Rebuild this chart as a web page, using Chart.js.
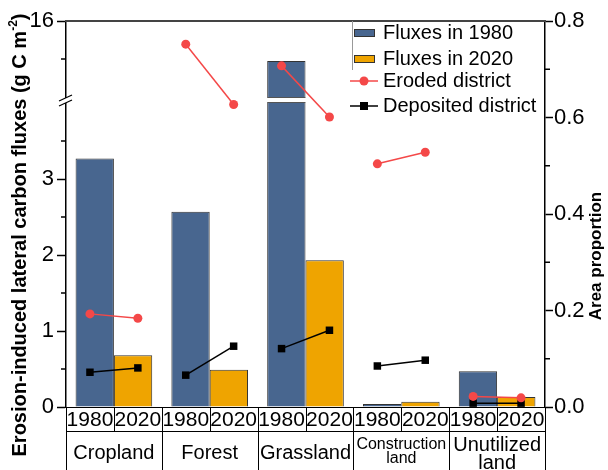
<!DOCTYPE html>
<html>
<head>
<meta charset="utf-8">
<script src="https://cdn.jsdelivr.net/npm/chart.js@4.4.1/dist/chart.umd.min.js"></script>
<style>
  body { margin: 0; background: #fff; }
</style>
</head>
<body>
<canvas id="chart" width="608" height="470"></canvas>
<script>
// data
const categories = ['Cropland', 'Forest', 'Grassland', ['Construction', 'land'], ['Unutilized', 'land']];
const years = ['1980', '2020'];
const flux1980 = [3.27, 2.57, 14.95, 0.04, 0.47];
const flux2020 = [0.68, 0.49, 1.93, 0.07, 0.13];
const eroded1980 = [0.193, 0.752, 0.707, 0.504, 0.022];
const eroded2020 = [0.184, 0.627, 0.601, 0.528, 0.019];
const deposited1980 = [0.072, 0.066, 0.121, 0.085, 0.008];
const deposited2020 = [0.081, 0.126, 0.159, 0.097, 0.008];

// left axis is broken between 4 and 14
const leftTicks = [0, 1, 2, 3, 16];
const leftMinorTicks = [0.5, 1.5, 2.5, 3.5, 15];
const rightMinorTicks = [0.1, 0.3, 0.5, 0.7];
const lowerMax = 4, upperMin = 14, upperMax = 16;
const breakGap = 6;

const blue = '#48668f';
const orange = '#efa400';
const red = '#f44848';
const font = 'Liberation Sans, Arial, sans-serif';

// x runs over category index; the 1980/2020 points sit a quarter category either side
const bars1980 = flux1980.map((v, i) => ({ x: i, y: v }));
const bars2020 = flux2020.map((v, i) => ({ x: i, y: v }));
const erodedData = [];
const depositedData = [];
for (let i = 0; i < categories.length; i++) {
  erodedData.push({ x: i - 0.25, y: eroded1980[i] }, { x: i + 0.25, y: eroded2020[i] });
  depositedData.push({ x: i - 0.25, y: deposited1980[i] }, { x: i + 0.25, y: deposited2020[i] });
}

class BrokenScale extends Chart.LinearScale {
  buildTicks() {
    return leftTicks.map(v => ({ value: v }));
  }
  unit() {
    return (this.bottom - this.top - breakGap) / (lowerMax + (upperMax - upperMin) / 2);
  }
  getPixelForValue(v) {
    if (v === null || v === undefined) return NaN;
    const u = this.unit();
    if (v <= lowerMax) return this.bottom - v * u;
    if (v >= upperMin) return this.bottom - lowerMax * u - breakGap - (v - upperMin) * u / 2;
    return this.bottom - lowerMax * u - breakGap / 2;
  }
  getValueForPixel(p) {
    const u = this.unit();
    const d = this.bottom - p;
    if (d <= lowerMax * u) return d / u;
    return upperMin + (d - lowerMax * u - breakGap) * 2 / u;
  }
}
BrokenScale.id = 'broken';
BrokenScale.defaults = Chart.LinearScale.defaults;
Chart.register(BrokenScale);

function line(ctx, x1, y1, x2, y2) {
  ctx.beginPath();
  ctx.moveTo(x1, y1);
  ctx.lineTo(x2, y2);
  ctx.stroke();
}

const extras = {
  id: 'extras',
  afterDatasetDraw(chart, args) {
    if (args.index !== 0) return;
    // white gap through the tall grassland bar
    const ctx = chart.ctx;
    const y = chart.scales.y;
    const bar = chart.getDatasetMeta(0).data[2];
    const top = y.getPixelForValue(upperMin);
    const bottom = y.getPixelForValue(lowerMax);
    ctx.save();
    ctx.fillStyle = '#fff';
    ctx.fillRect(bar.x - bar.width / 2 - 1, top, bar.width + 2, bottom - top);
    ctx.strokeStyle = '#555';
    ctx.lineWidth = 1;
    line(ctx, bar.x - bar.width / 2, top + 0.5, bar.x + bar.width / 2, top + 0.5);
    line(ctx, bar.x - bar.width / 2, bottom - 0.5, bar.x + bar.width / 2, bottom - 0.5);
    ctx.restore();
  },
  afterDraw(chart) {
    const ctx = chart.ctx;
    const area = chart.chartArea;
    const y = chart.scales.y;
    const y1 = chart.scales.y1;
    const x = chart.scales.x;
    ctx.save();

    // top frame
    ctx.strokeStyle = '#444';
    ctx.lineWidth = 2;
    line(ctx, area.left - 1, area.top, area.right + 1, area.top);

    // minor ticks
    ctx.strokeStyle = '#000';
    ctx.lineWidth = 1.5;
    leftMinorTicks.forEach(v => {
      const p = y.getPixelForValue(v);
      line(ctx, area.left - 5, p, area.left, p);
    });
    rightMinorTicks.forEach(v => {
      const p = y1.getPixelForValue(v);
      line(ctx, area.right, p, area.right + 5, p);
    });

    // axis break marks
    const yb = (y.getPixelForValue(lowerMax) + y.getPixelForValue(upperMin)) / 2;
    ctx.fillStyle = '#fff';
    ctx.fillRect(area.left - 3, yb - 2, 6, 5);
    ctx.lineWidth = 1.3;
    line(ctx, area.left - 7, yb + 1, area.left + 6, yb - 5);
    line(ctx, area.left - 7, yb + 6, area.left + 6, yb);

    // table under the plot
    const w = x.getPixelForValue(1) - x.getPixelForValue(0);
    const rowTop = area.bottom;
    const rowMid = rowTop + 24;
    const rowEnd = chart.height;
    ctx.strokeStyle = '#000';
    ctx.lineWidth = 1;
    line(ctx, area.left, rowTop + 0.5, area.right, rowTop + 0.5);
    line(ctx, area.left, rowMid + 0.5, area.right, rowMid + 0.5);
    for (let k = 0; k <= categories.length * 2; k++) {
      const px = Math.round(x.getPixelForValue(k / 2 - 0.5)) + 0.5;
      line(ctx, px, rowTop, px, k % 2 === 0 ? rowEnd : rowMid);
    }
    ctx.fillStyle = '#000';
    ctx.textAlign = 'center';
    ctx.textBaseline = 'middle';
    for (let i = 0; i < categories.length; i++) {
      const cx = x.getPixelForValue(i);
      ctx.font = '21px ' + font;
      ctx.fillText(years[0], cx - w / 4, rowTop + 13);
      ctx.fillText(years[1], cx + w / 4, rowTop + 13);
      const lab = categories[i];
      if (Array.isArray(lab)) {
        const small = lab[0].length > 10;
        ctx.font = (small ? '16px ' : '20px ') + font;
        const gap = small ? 14 : 18;
        ctx.fillText(lab[0], cx, rowMid + 14);
        ctx.fillText(lab[1], cx, rowMid + 14 + gap);
      } else {
        ctx.font = '20px ' + font;
        ctx.fillText(lab, cx, rowMid + 22);
      }
    }

    // legend
    const lx = 353, tx = 383;
    const rows = [33, 59, 81, 106];
    ctx.strokeStyle = '#999';
    ctx.lineWidth = 1;
    line(ctx, lx - 0.5, area.top, lx - 0.5, 70);
    ctx.font = '20px ' + font;
    ctx.textAlign = 'left';
    ctx.fillStyle = blue;
    ctx.fillRect(lx + 1, rows[0] - 4, 21, 8);
    ctx.strokeStyle = '#333';
    ctx.strokeRect(lx + 1.5, rows[0] - 3.5, 20, 7);
    ctx.fillStyle = orange;
    ctx.fillRect(lx + 1, rows[1] - 4, 21, 8);
    ctx.strokeRect(lx + 1.5, rows[1] - 3.5, 20, 7);
    ctx.lineWidth = 1.5;
    ctx.strokeStyle = red;
    line(ctx, 350, rows[2], 378, rows[2]);
    ctx.fillStyle = red;
    ctx.beginPath();
    ctx.arc(364, rows[2], 4.5, 0, Math.PI * 2);
    ctx.fill();
    ctx.strokeStyle = '#000';
    line(ctx, 350, rows[3], 378, rows[3]);
    ctx.fillStyle = '#000';
    ctx.fillRect(360, rows[3] - 4, 8, 8);
    ctx.fillText('Fluxes in 1980', tx, rows[0]);
    ctx.fillText('Fluxes in 2020', tx, rows[1]);
    ctx.fillText('Eroded district', tx, rows[2]);
    ctx.fillText('Deposited district', tx, rows[3]);

    // axis titles
    ctx.save();
    ctx.translate(20, 235);
    ctx.rotate(-Math.PI / 2);
    ctx.textAlign = 'left';
    ctx.textBaseline = 'middle';
    const t1 = 'Erosion-induced lateral carbon fluxes (g C m';
    const t2 = '-2';
    const t3 = ')';
    ctx.font = 'bold 20px ' + font;
    const w1 = ctx.measureText(t1).width;
    const w3 = ctx.measureText(t3).width;
    ctx.font = 'bold 12px ' + font;
    const w2 = ctx.measureText(t2).width;
    const start = -(w1 + w2 + w3) / 2;
    ctx.font = 'bold 20px ' + font;
    ctx.fillText(t1, start, 0);
    ctx.fillText(t3, start + w1 + w2, 0);
    ctx.font = 'bold 12px ' + font;
    ctx.fillText(t2, start + w1, -6);
    ctx.restore();

    ctx.save();
    ctx.translate(596, 256);
    ctx.rotate(-Math.PI / 2);
    ctx.textAlign = 'center';
    ctx.textBaseline = 'middle';
    ctx.font = 'bold 17px ' + font;
    ctx.fillText('Area proportion', 0, 0);
    ctx.restore();

    ctx.restore();
  }
};

const ctx = document.getElementById('chart').getContext('2d');
const myChart = new Chart(ctx, {
  type: 'bar',
  data: {
    datasets: [
      {
        type: 'bar',
        label: 'Fluxes in 1980',
        data: bars1980,
        backgroundColor: blue,
        borderColor: '#333',
        borderWidth: 1,
        categoryPercentage: 0.8,
        barPercentage: 1,
        xAxisID: 'x',
        yAxisID: 'y',
        order: 2
      },
      {
        type: 'bar',
        label: 'Fluxes in 2020',
        data: bars2020,
        backgroundColor: orange,
        borderColor: '#333',
        borderWidth: 1,
        categoryPercentage: 0.8,
        barPercentage: 1,
        xAxisID: 'x',
        yAxisID: 'y',
        order: 2
      },
      {
        type: 'line',
        label: 'Eroded district',
        data: erodedData,
        borderColor: red,
        borderWidth: 1.5,
        pointStyle: 'circle',
        pointRadius: 4.5,
        pointBackgroundColor: red,
        pointBorderWidth: 0,
        segment: { borderColor: c => c.p0DataIndex % 2 === 1 ? 'rgba(0,0,0,0)' : red },
        xAxisID: 'x',
        yAxisID: 'y1',
        order: 1
      },
      {
        type: 'line',
        label: 'Deposited district',
        data: depositedData,
        borderColor: '#000',
        borderWidth: 1.5,
        pointStyle: 'rect',
        pointRadius: 5.3,
        pointBackgroundColor: '#000',
        pointBorderWidth: 0,
        segment: { borderColor: c => c.p0DataIndex % 2 === 1 ? 'rgba(0,0,0,0)' : '#000' },
        xAxisID: 'x',
        yAxisID: 'y1',
        order: 1
      }
    ]
  },
  options: {
    indexAxis: 'x',
    responsive: false,
    animation: false,
    devicePixelRatio: 1,
    layout: { padding: { top: 21, bottom: 63, left: 0, right: 0 } },
    plugins: {
      legend: { display: false },
      tooltip: { enabled: false }
    },
    scales: {
      x: {
        type: 'linear',
        min: -0.5,
        max: categories.length - 0.5,
        offset: false,
        grid: { offset: false },
        display: false,
        afterBuildTicks: s => { s.ticks = categories.map((c, i) => ({ value: i })); }
      },
      y: {
        type: 'broken',
        position: 'left',
        min: 0,
        max: upperMax,
        afterFit: s => { s.width = 66; },
        border: { display: true, color: '#000', width: 1.5 },
        grid: { drawOnChartArea: false, tickLength: 9, tickColor: '#000', tickWidth: 1.5 },
        ticks: {
          autoSkip: false,
          padding: 3,
          color: '#000',
          font: { family: font, size: 22 },
          callback: v => String(v)
        }
      },
      y1: {
        type: 'linear',
        position: 'right',
        min: 0,
        max: 0.8,
        afterFit: s => { s.width = 63; },
        border: { display: true, color: '#000', width: 1.5 },
        grid: { drawOnChartArea: false, tickLength: 8, tickColor: '#000', tickWidth: 1.5 },
        ticks: {
          stepSize: 0.2,
          padding: 1,
          color: '#000',
          font: { family: font, size: 22 },
          callback: v => v.toFixed(1)
        }
      }
    }
  },
  plugins: [extras]
});
</script>
</body>
</html>
